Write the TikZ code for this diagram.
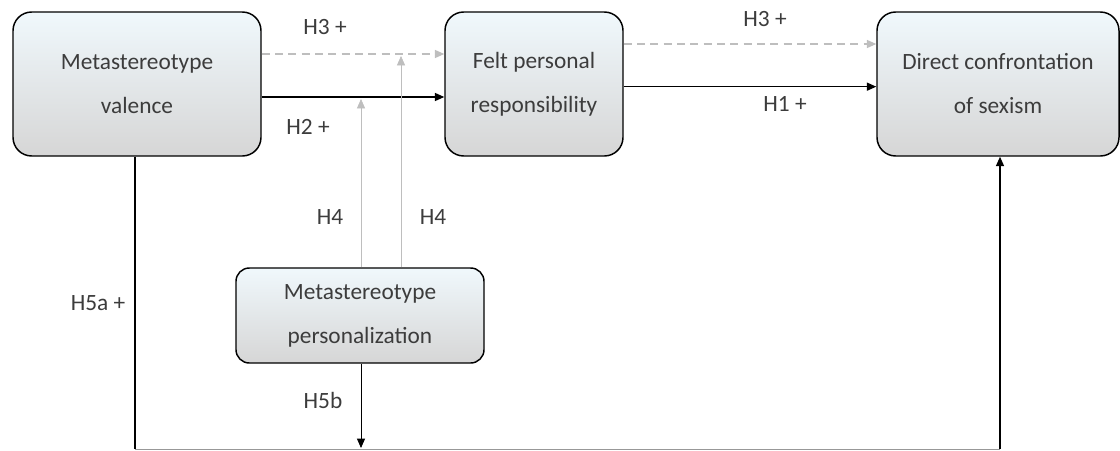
\documentclass[tikz,border=0pt]{standalone}
\usepackage{fontspec}
\setmainfont{Carlito}
\usetikzlibrary{arrows.meta, positioning}
\definecolor{BoxTop}{RGB}{240, 248, 252}
\definecolor{BoxBottom}{RGB}{214, 214, 214}
\definecolor{LabelGray}{RGB}{60, 60, 60}
\definecolor{LinkGray}{RGB}{190, 190, 190}

\begin{document}
\begin{tikzpicture}[x=0.75pt, y=-0.75pt,
        construct/.style={draw=black, line width=1.1pt, rounded corners=14pt,
                          top color=BoxTop, bottom color=BoxBottom, align=center,
                          text=LabelGray, font=\fontsize{17.5}{33}\selectfont,
                          minimum height=108pt},
        hyp/.style={text=LabelGray, font=\fontsize{17.5}{21}\selectfont},
        path/.style={-{Triangle[length=7pt, width=6pt]}, line width=1pt, black},
        mediated/.style={-{Triangle[length=7pt, width=6pt]}, line width=1pt,
                         LinkGray, dash pattern=on 6pt off 4pt},
        moderate/.style={-{Triangle[length=7pt, width=6pt]}, line width=0.5pt, LinkGray}]

        \useasboundingbox (0, 0) rectangle (1120, 450);

        % Predictor, mediator, outcome
        \node[construct, minimum width=186pt] (val) at (137, 84) {Metastereotype\\valence};
        \node[construct, minimum width=133.5pt] (felt) at (534, 84) {Felt personal\\responsibility};
        \node[construct, minimum width=181.5pt] (conf) at (998, 84) {Direct confrontation\\of sexism};
        % Moderator
        \node[construct, minimum width=186pt, minimum height=71.25pt, rounded corners=10pt]
              (pers) at (360, 315.5) {Metastereotype\\personalization};

        % Links between the top row
        \draw[mediated] ([yshift=22.5pt]val.east) -- ([yshift=22.5pt]felt.west);
        \draw[path] ([yshift=-9.75pt]val.east) -- ([yshift=-9.75pt]felt.west);
        \draw[mediated] ([yshift=30pt]felt.east) -- ([yshift=30pt]conf.west);
        \draw[path] ([yshift=-2pt]felt.east) -- ([yshift=-2pt]conf.west);

        % Moderation arrows onto the links
        \coordinate (onH2) at (361, 99);
        \coordinate (onH3) at (401, 56);
        \draw[moderate] ([xshift=0.75pt]pers.north) -- (onH2);
        \draw[moderate] ([xshift=30.75pt]pers.north) -- (onH3);

        % Direct path along the bottom
        \coordinate (cornerL) at (135, 449);
        \coordinate (cornerR) at (1000, 449);
        \coordinate (onH5) at (361, 448);
        \draw[line width=1pt] ([xshift=-1.5pt]val.south) -- (cornerL);
        \draw[line width=0.6pt, LinkGray!80!black] (cornerL) -- (cornerR);
        \draw[path] (cornerR) -- ([xshift=1.5pt]conf.south);
        \draw[-{Triangle[length=7pt, width=6pt]}, line width=0.6pt] ([xshift=0.75pt]pers.south) -- (onH5);

        % Hypothesis labels
        \node[hyp] (lH3a) at (325, 27) {H3 +};
        \node[hyp] (lH2) at (308, 127) {H2 +};
        \node[hyp] (lH3b) at (765, 19) {H3 +};
        \node[hyp] (lH1) at (785, 104) {H1 +};
        \node[hyp] (lH4a) at (330, 217) {H4};
        \node[hyp] (lH4b) at (433, 217) {H4};
        \node[hyp] (lH5a) at (98, 303) {H5a +};
        \node[hyp] (lH5b) at (323, 400) {H5b};
\end{tikzpicture}
\end{document}
